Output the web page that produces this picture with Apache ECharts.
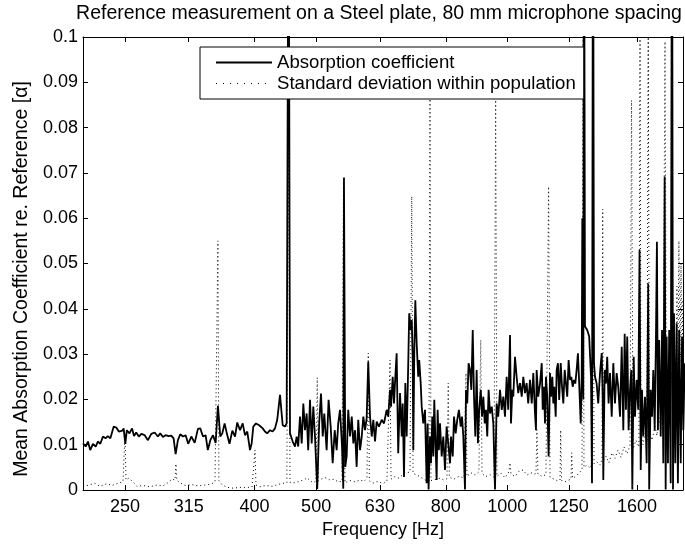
<!DOCTYPE html>
<html><head><meta charset="utf-8">
<script src="https://cdn.jsdelivr.net/npm/echarts@6/dist/echarts.min.js"></script>
<style>html,body{margin:0;padding:0;background:#fff}#c{width:685px;height:545px}</style>
</head><body><div id="c"></div>
<script>
// Frequencies in Hz and mean absorption coefficient
const absFreq = [214.7,216.8,218.6,220.4,222.6,224.8,226.6,228.6,230.8,233.0,234.9,237.1,240.0,242.2,244.5,247.6,248.8,250.3,251.7,254.1,256.5,258.3,260.4,262.9,265.2,268.5,271.7,275.0,278.4,281.7,284.1,286.9,289.7,292.8,295.7,298.2,300.4,302.9,305.5,308.5,311.5,314.4,318.0,321.9,325.7,328.5,331.7,334.9,337.6,340.7,344.0,347.3,350.2,353.2,355.8,358.8,361.8,365.2,369.0,
372.6,375.6,379.4,383.1,386.3,389.5,393.4,395.8,398.1,402.0,406.7,411.9,415.3,418.7,423.0,427.1,430.7,434.2,438.6,442.9,446.6,449.3,452.5,454.8,459.3,463.1,465.9,468.5,471.6,474.5,477.3,480.2,483.1,485.8,489.0,492.0,494.9,497.9,502.0,505.5,508.9,512.1,515.0,519.4,523.1,527.1,530.9,534.8,538.6,541.7,545.2,549.2,551.7,553.1,555.7,558.5,561.7,565.4,568.9,572.2,575.7,579.1,582.5,586.3,589.9,593.3,597.0,600.5,604.0,607.9,611.7,615.2,619.0,622.7,627.8,634.3,639.5,
641.9,645.7,649.4,653.6,656.0,660.0,663.1,665.5,669.5,673.3,677.8,682.0,684.4,687.6,690.9,694.3,698.3,700.7,704.6,707.2,709.7,711.2,713.8,716.4,719.9,724.0,726.6,730.5,733.2,737.4,742.0,746.4,749.1,751.7,755.6,758.3,761.9,764.7,767.4,770.2,774.0,776.8,780.3,783.5,788.3,792.9,797.8,802.5,807.2,812.5,815.4,820.5,824.3,829.3,834.0,839.1,844.6,848.6,852.6,857.8,860.9,864.8,869.1,873.6,877.7,882.2,886.3,890.5,894.8,899.0,903.1,908.2,912.5,916.8,921.4,925.6,929.9,934.5,939.3,945.1,950.6,956.4,962.1,967.7,974.0,980.0,985.7,991.7,997.7,1003.4,1009.9,1013.5,1018.4,1022.0,1028.3,1034.4,1040.4,1047.2,1053.7,1059.8,1066.3,1072.6,1078.8,1085.9,
1092.6,1098.9,1105.7,1109.6,1112.3,1118.7,1126.0,1133.0,1137.0,1142.3,1146.5,1150.5,1155.8,1161.6,1167.6,1171.8,1177.4,1181.6,1185.8,1191.8,1196.0,1201.6,1207.1,1213.7,1219.5,1225.2,1231.4,1237.1,1242.8,1249.0,1255.4,1261.3,1267.7,1273.6,1279.6,1285.9,1291.9,1297.8,1305.0,1309.8,1312.6,1317.3,1320.6,1325.4,1336.2,1345.7,1354.7,1359.6,1364.5,1369.4,1374.4,1382.6,1390.6,1399.6,1408.3,1413.3,1416.4,1423.5,1430.1,1436.7,1443.8,1451.3,1460.3,1468.7,1477.7,1486.6,1495.1,1504.9,1514.2,1523.0,1530.6,1537.7,1544.8,1552.5,1560.5,1567.8,1573.6,1581.4,1588.9,1598.4,1607.6,1615.4,1622.1,1629.9,1637.5,1647.6,1657.4,1666.9,1672.8,1682.0,1690.0,1697.9,1706.5,1714.4,1720.4,1726.6,1734.5,1744.2,1752.5,1760.7,1769.5,1775.8,1782.1,1790.4,1798.6,1808.5,1817.2,1823.7,1830.2,1838.8,1847.8,1856.5,1865.0,1875.4,1884.4,1893.1,1902.7];
const absVal = [.0103,.0096,.0107,.0088,.0102,.0096,.0107,.0102,.0118,.0114,.0119,.0114,.0140,.0138,.0129,.0131,.0136,.0102,.0132,.0125,.0136,.0119,.0127,.0118,.0124,.0121,.0110,.0124,.0127,.0118,.0125,.0117,.0121,.0119,.0120,.0114,.0079,.0110,.0123,.0118,.0121,.0102,.0118,.0104,.0135,.0136,.0118,.0121,.0088,.0110,.0121,.0104,.0186,.0118,.0125,.0147,.0124,.0102,.0131,
.0118,.0149,.0132,.0147,.0121,.0129,.0088,.0103,.0140,.0147,.0143,.0136,.0129,.0125,.0132,.0129,.0136,.0155,.0210,.0143,.0140,.0147,.15,.0125,.0107,.0096,.0118,.0096,.0162,.0103,.0191,.0132,.0169,.0088,.0199,.0103,.0184,.0118,.0002,.0147,.0213,.0118,.0169,.0088,.0199,.0140,.0059,.0132,.0088,.0147,.0177,.0096,.0003,.069,.0051,.0074,.0177,.0118,.0162,.0103,.0132,.0051,.0155,.0088,.0118,.0162,.0132,.0158,.0283,.0162,.0118,.0155,.0107,.0151,.0140,.0155,.0147,
.0147,.0177,.0162,.0221,.0184,.0250,.0191,.0236,.0302,.0081,.0214,.0118,.0191,.0029,.0236,.0118,.0280,.0390,.0353,.0375,.0287,.0088,.0309,.0419,.0324,.0250,.0287,.0236,.0184,.0147,.0177,.0015,.0147,.0001,.0118,.0059,.0162,.0074,.0199,.0118,.0022,.0177,.0088,.0147,.0074,.0118,.0044,.0140,.0103,.0059,.0118,.0074,.0162,.0125,.0155,.0177,.0140,.0162,.0118,.0001,.0221,.0191,.0280,.0265,.0221,.0353,.0206,.0118,.0265,.0103,.0177,.0221,.0162,.0206,.0147,.0177,.0118,.0221,.0169,.0184,.0147,.0001,.0191,.0162,.0221,.0177,.0206,.0162,.0250,.0177,.0342,.0147,.0221,.0206,.0294,.0250,.0214,.0236,.0206,.0250,.0214,.0236,.0191,.0243,
.0191,.0258,.0169,.0132,.0265,.0206,.0235,.0280,.0177,.0228,.0147,.0250,.0206,.0074,.0258,.0206,.0250,.0191,.0228,.0162,.0265,.0280,.0199,.0280,.0228,.0191,.0265,.0235,.0206,.0287,.0243,.0250,.0228,.0243,.0235,.0265,.0302,.0235,.0147,.0250,.0600,.0200,.15,.0361,.0353,.0339,.0250,.0015,.15,.0280,.0250,.0235,.0191,.0258,.0302,.0206,.0022,.0265,.0235,.0294,.0191,.0258,.0162,.0280,.0191,.0258,.0228,.0162,.0316,.0132,.0345,.0177,.0339,.0132,.0221,.0265,.0001,.0294,.0162,.0243,.0177,.0530,.0044,.0221,.0118,.0206,.0059,.0456,.0001,.0221,.0162,.0265,.0132,.0339,.0548,.0132,.0331,.0118,.0353,.0059,.0692,.0001,.0339,.0059,.0353,.0015,.15,.0001,.0390,.0059,.0368,.0015,.0353,.0059,.0339,.0132,.0280];

// Standard deviation within population
const stdFreq = [214.7,218.6,224.2,228.3,234.1,238.5,243.7,248.2,249.1,250.0,250.9,253.5,257.4,261.1,266.9,273.7,280.7,286.9,292.1,296.4,299.7,300.7,301.8,305.2,310.8,318.8,325.7,334.1,341.5,346.5,348.9,350.2,351.4,355.4,361.8,369.9,379.4,387.7,396.3,399.1,400.6,402.0,407.9,416.8,426.1,435.3,443.4,449.7,452.2,454.8,463.1,471.6,478.4,483.6,489.0,494.3,499.7,502.0,504.1,510.8,518.2,525.8,533.4,541.1,549.2,552.1,555.1,565.4,575.7,586.3,594.8,601.2,604.0,606.5,614.5,625.6,637.3,646.4,651.0,653.6,656.0,665.5,675.0,685.2,695.0,702.8,707.2,710.5,720.7,731.3,742.0,752.5,755.6,758.3,769.4,783.5,794.9,803.4,807.2,810.5,824.3,839.1,854.7,857.8,860.9,863.9,876.8,889.5,902.2,908.2,912.5,925.6,939.3,952.9,958.7,963.2,977.5,991.7,1005.8,1009.9,1013.5,1028.3,1042.9,1058.6,1073.8,1089.8,1105.7,1109.6,1113.5,1117.5,1134.2,1150.5,1156.6,1161.6,1167.6,1184.5,1201.6,1210.7,1213.7,1217.3,1232.7,1250.3,1259.9,1263.2,1266.8,1282.8,1301.7,1311.2,1315.9,1320.6,1334.8,1349.8,1359.6,1364.5,1369.4,1384.1,1399.6,1409.8,1413.3,1417.4,1430.1,1445.4,1461.9,1477.7,1493.5,1510.4,1526.7,1543.1,1560.5,1569.0,1577.5,1594.5,1611.5,1618.1,1624.0,1635.7,1647.6,1659.2,1666.9,1673.9,1690.0,1708.3,1720.4,1732.7,1746.1,1758.8,1771.5,1780.9,1790.4,1804.0,1813.7,1823.7,1833.4,1843.3,1849.8,1856.5,1863.0,1870.7,1877.4,1884.4,1891.1,1894.5];
const stdVal = [.0012,.0010,.0015,.0008,.0014,.0010,.0015,.0018,.0020,.0125,.0022,.0026,.0018,.0008,.0010,.0007,.0011,.0009,.0016,.0024,.0022,.0058,.0021,.0016,.0010,.0012,.0009,.0011,.0013,.0018,.0020,.0550,.0021,.0012,.0006,.0004,.0006,.0005,.0007,.0010,.0088,.0011,.0007,.0010,.0008,.0012,.0015,.0016,.0900,.0017,.0016,.0020,.0022,.0027,.0021,.0016,.0020,.0248,.0020,.0025,.0027,.0022,.0024,.0018,.0019,.0680,.0016,.0021,.0018,.0022,.0019,.0026,.0302,.0020,.0015,.0019,.0014,.0020,.0022,.0287,.0024,.0030,.0026,.0035,.0038,.0040,.0648,.0037,.0033,.0028,.0022,.0020,.0890,.0021,.0023,.0026,.0022,.0025,.0236,.0028,.0024,.0030,.0027,.0028,.0258,.0030,.0038,.0033,.0040,.0331,.0036,.0030,.0034,.0028,.0870,.0030,.0037,.0027,.0040,.0060,.0035,.0030,.0041,.0044,.0033,.0038,.0035,.0040,.0133,.0036,.0030,.0034,.0030,.0670,.0028,.0024,.0020,.0022,.0132,.0021,.0018,.0022,.0024,.0082,.0026,.0030,.0040,.0045,.1000,.0050,.0055,.0048,.0060,.1000,.0058,.0062,.0055,.0068,.0620,.0066,.0075,.0060,.0082,.0070,.0088,.0072,.0095,.0080,.0098,.0860,.0090,.0110,.0095,.1000,.0120,.0100,.0125,.0105,.1000,.0130,.0110,.0140,.0120,.0160,.0135,.0180,.0990,.0170,.0220,.0160,.0260,.0190,.0300,.0210,.0450,.0250,.0550,.0280,.0500,.0300,.0420,.0350];

const tickFreqs = [250, 315, 400, 500, 630, 800, 1000, 1250, 1600];
const freqMin = 214.7, freqMax = 1891;
const yMin = 0, yMax = 0.1, yStep = 0.01;
const yTitle = 'Mean Absorption Coefficient re. Reference [\u03b1]';

const FONT = 'Liberation Sans, Arial, Helvetica, sans-serif';
const tickVals = tickFreqs.map(f => Math.log10(f));
const lg = (fs, vs) => fs.map((f, i) => [Math.log10(f), vs[i]]);

const chart = echarts.init(document.getElementById('c'), null, {renderer: 'canvas'});
const axisLineStyle = {color: '#000', width: 1};
const txt = {color: '#000', fontFamily: FONT, fontSize: 18};

chart.setOption({
  animation: false,
  backgroundColor: '#fff',
  title: {
    text: 'Reference measurement on a Steel plate, 80 mm microphone spacing',
    left: 379, top: 4, textAlign: 'center', padding: 0,
    textStyle: Object.assign({}, txt, {fontWeight: 'normal', fontSize: 19.5})
  },
  graphic: [{
    type: 'text', x: 22, y: 279, rotation: Math.PI / 2, silent: true,
    style: {text: yTitle, fill: '#000', font: '19.5px ' + FONT, align: 'center', verticalAlign: 'middle'}
  }],
  grid: {left: 83, right: 2, top: 37, bottom: 55, containLabel: false},
  legend: {
    orient: 'vertical', left: 200, top: 47,
    padding: [5, 8, 5, 15], itemWidth: 56, itemHeight: 10, itemGap: 0,
    backgroundColor: '#fff', borderColor: '#000', borderWidth: 1, borderRadius: 0,
    itemStyle: {opacity: 0},
    textStyle: Object.assign({}, txt, {lineHeight: 21, fontSize: 18.6}),
    data: [
      {name: 'Absorption coefficient'},
      {name: 'Standard deviation within population', lineStyle: {type: [1, 6], width: 1}}
    ]
  },
  xAxis: [
    {
      type: 'value', position: 'bottom', min: Math.log10(freqMin), max: Math.log10(freqMax),
      axisLine: {show: true, onZero: false, lineStyle: axisLineStyle},
      axisTick: {show: true, inside: true, length: 5, customValues: tickVals, lineStyle: axisLineStyle},
      axisLabel: Object.assign({customValues: tickVals, margin: 8,
        formatter: v => String(Math.round(Math.pow(10, v)))}, txt),
      splitLine: {show: false},
      name: 'Frequency [Hz]', nameLocation: 'middle', nameGap: 28,
      nameTextStyle: txt
    },
    {
      type: 'value', position: 'top', min: Math.log10(freqMin), max: Math.log10(freqMax),
      axisLine: {show: true, onZero: false, lineStyle: axisLineStyle},
      axisTick: {show: true, inside: true, length: 5, customValues: tickVals, lineStyle: axisLineStyle},
      axisLabel: {show: false}, splitLine: {show: false}
    }
  ],
  yAxis: [
    {
      type: 'value', min: yMin, max: yMax, interval: yStep,
      axisLine: {show: true, onZero: false, lineStyle: axisLineStyle},
      axisTick: {show: true, inside: true, length: 5, lineStyle: axisLineStyle},
      axisLabel: Object.assign({margin: 5,
        formatter: v => v === 0 ? '0' : String(parseFloat(v.toFixed(2)))}, txt),
      splitLine: {show: false}
    },
    {
      type: 'value', position: 'right', min: yMin, max: yMax, interval: yStep,
      axisLine: {show: true, onZero: false, lineStyle: axisLineStyle},
      axisTick: {show: true, inside: true, length: 5, lineStyle: axisLineStyle},
      axisLabel: {show: false}, splitLine: {show: false}
    }
  ],
  series: [
    {
      name: 'Absorption coefficient', type: 'line', xAxisIndex: 0, yAxisIndex: 0,
      data: lg(absFreq, absVal), symbol: 'none', clip: true, z: 2,
      lineStyle: {color: '#000', width: 1.8}, itemStyle: {color: '#000'}
    },
    {
      name: 'Standard deviation within population', type: 'line', xAxisIndex: 0, yAxisIndex: 0,
      data: lg(stdFreq, stdVal), symbol: 'none', clip: true, z: 3,
      lineStyle: {color: '#000', width: 1, type: [1, 3]}, itemStyle: {color: '#000'}
    }
  ]
});
</script>
</body></html>
